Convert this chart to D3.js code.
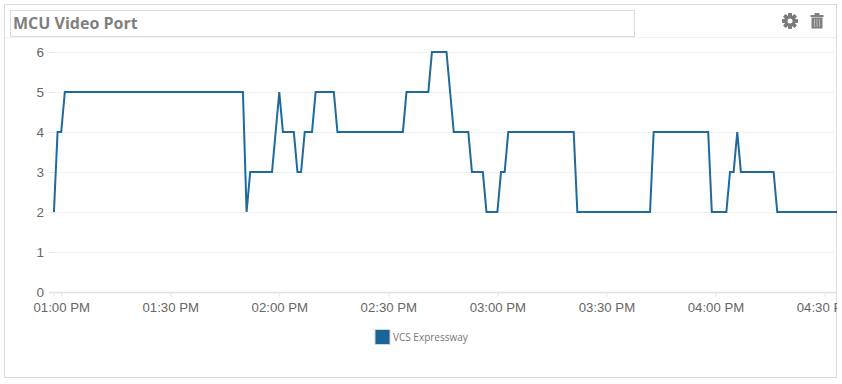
<!DOCTYPE html>
<html>
<head>
<meta charset="utf-8">
<script src="https://cdn.jsdelivr.net/npm/d3@7"></script>
<style>
html, body { margin: 0; padding: 0; background: #fff; }
svg { display: block; }
</style>
</head>
<body>
<div id="chart"></div>
<script>
'use strict'

var title = 'MCU Video Port';
var seriesName = 'VCS Expressway';
var times = ['12:58','12:59','13:00','13:01','13:50','13:51','13:52','13:58','14:00','14:01','14:04','14:05','14:06','14:07','14:09','14:10','14:15','14:16','14:34','14:35','14:41','14:42','14:46','14:47','14:48','14:52','14:53','14:56','14:57','15:00','15:01','15:02','15:03','15:21','15:22','15:42','15:43','15:58','15:59','16:03','16:04','16:05','16:06','16:07','16:16','16:17','16:35'];
var values = [2,4,4,5,5,2,3,3,5,4,4,3,3,4,4,5,5,4,4,5,5,6,6,5,4,4,3,3,2,2,3,3,4,4,2,2,4,4,2,2,3,3,4,3,3,2,2];
var xTicks = ['12:58','13:00','13:30','14:00','14:30','15:00','15:30','16:00','16:30'];
var xTickLabels = ['','01:00 PM','01:30 PM','02:00 PM','02:30 PM','03:00 PM','03:30 PM','04:00 PM','04:30 PM'];
var yTicks = [0,1,2,3,4,5,6];

var parseTime = d3.timeParse('%H:%M');

var width = 842, height = 384;
var plot = { left: 54, right: 837, top: 52, bottom: 292 };

var svg = d3.select('#chart').append('svg')
	.attr('width', width)
	.attr('height', height);

// card and header
svg.append('rect')
	.attr('x', 4.5).attr('y', 4.5)
	.attr('width', 832).attr('height', 373)
	.attr('fill', '#fff')
	.attr('stroke', '#dcdcdc');
svg.append('line')
	.attr('x1', 5).attr('x2', 836)
	.attr('y1', 37.5).attr('y2', 37.5)
	.attr('stroke', '#f0f0f0');
svg.append('rect')
	.attr('x', 10.5).attr('y', 10.5)
	.attr('width', 624).attr('height', 26)
	.attr('fill', '#fff')
	.attr('stroke', '#dcdcdc');
svg.append('text')
	.attr('x', 13).attr('y', 29)
	.attr('font-family', '"Open Sans", sans-serif')
	.attr('font-weight', 700)
	.attr('font-size', 16)
	.attr('fill', '#7f7f7f')
	.text(title);

// gear icon
var gear = svg.append('g').attr('transform', 'translate(790,21)').attr('fill', '#7a7a7a');
d3.range(8).forEach(function(i) {
	gear.append('rect')
		.attr('x', -1.8).attr('y', -8)
		.attr('width', 3.6).attr('height', 16)
		.attr('rx', 1)
		.attr('transform', 'rotate(' + i * 45 + ')');
});
gear.append('circle').attr('r', 5.8);
gear.append('circle').attr('r', 2.5).attr('fill', '#fff');

// trash icon
var trash = svg.append('g').attr('transform', 'translate(817,21)').attr('fill', '#808080');
trash.append('rect').attr('x', -6.5).attr('y', -6).attr('width', 13).attr('height', 2);
trash.append('rect').attr('x', -2.5).attr('y', -8).attr('width', 5).attr('height', 2);
trash.append('rect').attr('x', -5.5).attr('y', -3.5).attr('width', 11).attr('height', 11);
[-2.5, 0, 2.5].forEach(function(dx) {
	trash.append('rect')
		.attr('x', dx - 0.4).attr('y', -2)
		.attr('width', 0.8).attr('height', 8)
		.attr('fill', '#c4c4c4');
});

// scales, 01:00 PM sits near x=61 and 30 minutes span about 109px
var x = d3.scaleTime()
	.domain([parseTime('13:00'), parseTime('16:30')])
	.range([61.2, 824.5]);
var y = d3.scaleLinear()
	.domain([0, 6])
	.range([plot.bottom, plot.top]);

// y axis with gridlines
var yAxis = svg.append('g')
	.attr('transform', 'translate(' + plot.left + ',0)')
	.call(d3.axisLeft(y).tickValues(yTicks).tickSize(5).tickPadding(5).tickFormat(d3.format('d')));
yAxis.select('.domain').remove();
yAxis.selectAll('.tick line').attr('stroke', '#e6e6e6');
yAxis.selectAll('.tick').filter(function(d) { return d > 0; })
	.append('line')
	.attr('x1', 0)
	.attr('x2', plot.right - plot.left)
	.attr('stroke', '#f2f2f2');
yAxis.selectAll('text')
	.attr('font-family', '"Liberation Sans", sans-serif')
	.attr('font-size', 13.5)
	.attr('fill', '#666');

// everything past the card edge is cut off, the 04:30 PM label too
svg.append('clipPath').attr('id', 'plotClip')
	.append('rect')
	.attr('x', 0).attr('y', 0)
	.attr('width', plot.right).attr('height', height);

// x axis
var xAxis = svg.append('g')
	.attr('clip-path', 'url(#plotClip)')
	.append('g')
	.attr('transform', 'translate(0,' + plot.bottom + ')')
	.call(d3.axisBottom(x)
		.tickValues(xTicks.map(parseTime))
		.tickSize(5)
		.tickPadding(6)
		.tickFormat(function(d, i) { return xTickLabels[i]; }));
xAxis.select('.domain')
	.attr('d', 'M' + (plot.left - 5) + ',0.5H' + plot.right)
	.attr('stroke', '#e0e0e0')
	.attr('stroke-width', 1.5);
xAxis.selectAll('.tick line').attr('stroke', '#e6e6e6');
xAxis.selectAll('text')
	.attr('font-family', '"Liberation Sans", sans-serif')
	.attr('font-size', 13.2)
	.attr('fill', '#666');

// series line
var line = d3.line()
	.x(function(d, i) { return x(parseTime(times[i])); })
	.y(function(d) { return y(d); });
svg.append('path')
	.datum(values)
	.attr('clip-path', 'url(#plotClip)')
	.attr('d', line)
	.attr('fill', 'none')
	.attr('stroke', '#1f6a9c')
	.attr('stroke-width', 2);

// legend
svg.append('rect')
	.attr('x', 375).attr('y', 329.5)
	.attr('width', 15).attr('height', 15)
	.attr('fill', '#1a6496')
	.attr('stroke', '#d5d5d5');
svg.append('text')
	.attr('x', 393).attr('y', 341)
	.attr('font-family', '"Open Sans", sans-serif')
	.attr('font-size', 10)
	.attr('fill', '#777')
	.text(seriesName);
</script>
</body>
</html>
